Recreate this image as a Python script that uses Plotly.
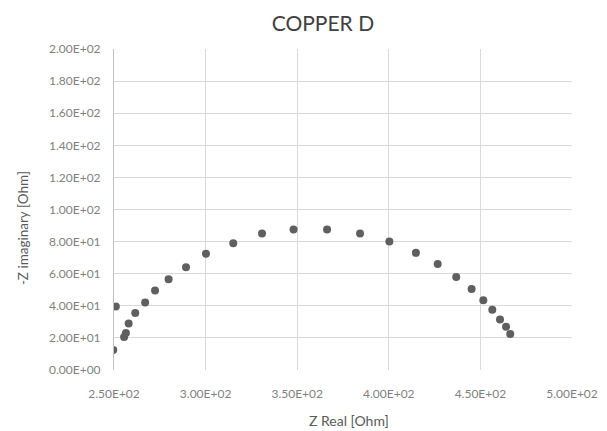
import plotly.graph_objects as go

z_real = [249.6, 251.0, 255.5, 256.5, 258.0, 261.6, 267.0, 272.4, 279.8, 289.3,
          300.2, 315.1, 330.8, 348.0, 366.3, 384.3, 400.3, 414.8, 426.7, 436.8,
          445.2, 451.6, 456.5, 460.7, 464.0, 466.3]
z_imag = [12.5, 39.5, 20.5, 23.0, 29.0, 35.5, 42.0, 49.5, 56.5, 64.0,
          72.5, 79.0, 85.0, 87.5, 87.5, 85.0, 80.0, 73.0, 66.0, 58.0,
          50.5, 43.5, 37.5, 31.5, 27.0, 22.5]

x_ticks = [250, 300, 350, 400, 450, 500]
y_ticks = [0, 20, 40, 60, 80, 100, 120, 140, 160, 180, 200]
x_labels = [f"{v:.2E}" for v in x_ticks]
y_labels = [f"{v:.2E}" for v in y_ticks]

FONT = "Lato, 'Open Sans', sans-serif"
TICK_COL = "#7f7f7f"
TITLE_COL = "#595959"

fig = go.Figure()
fig.add_trace(go.Scatter(
    x=z_real, y=z_imag, mode="markers",
    marker=dict(color="#5f5f5f", size=8, line=dict(width=0)),
    showlegend=False,
))

fig.update_layout(
    width=607, height=431,
    margin=dict(l=114, r=35, t=49, b=61),
    paper_bgcolor="white", plot_bgcolor="white",
    title=dict(text="COPPER D", x=0.532, xanchor="center", y=0.944, yanchor="middle",
               font=dict(family=FONT, size=21, color="#404040")),
    font=dict(family=FONT),
    annotations=[
        dict(text="Z Real [Ohm]", xref="paper", yref="paper", x=0.513, y=-0.156,
             xanchor="center", yanchor="middle", showarrow=False,
             font=dict(size=14, color=TITLE_COL)),
        dict(text="-Z imaginary [Ohm]", xref="paper", yref="paper", x=-0.1987, y=0.442,
             xanchor="center", yanchor="middle", showarrow=False, textangle=-90,
             font=dict(size=13.5, color=TITLE_COL)),
    ],
)
fig.update_xaxes(
    range=[250, 500], tickvals=x_ticks, ticktext=x_labels,
    showgrid=True, gridcolor="#d9d9d9", gridwidth=1,
    zeroline=False, showline=False,
    ticks="outside", ticklen=13, tickcolor="rgba(0,0,0,0)",
    tickfont=dict(size=12, color=TICK_COL),
    automargin=False,
)
fig.update_yaxes(
    range=[0, 200], tickvals=y_ticks, ticktext=y_labels,
    showgrid=True, gridcolor="#d9d9d9", gridwidth=1,
    zeroline=False, showline=True, linecolor="#bfbfbf",
    ticks="outside", ticklen=10, tickcolor="rgba(0,0,0,0)",
    tickfont=dict(size=12, color=TICK_COL),
    automargin=False,
)

fig.write_html("out.html")
